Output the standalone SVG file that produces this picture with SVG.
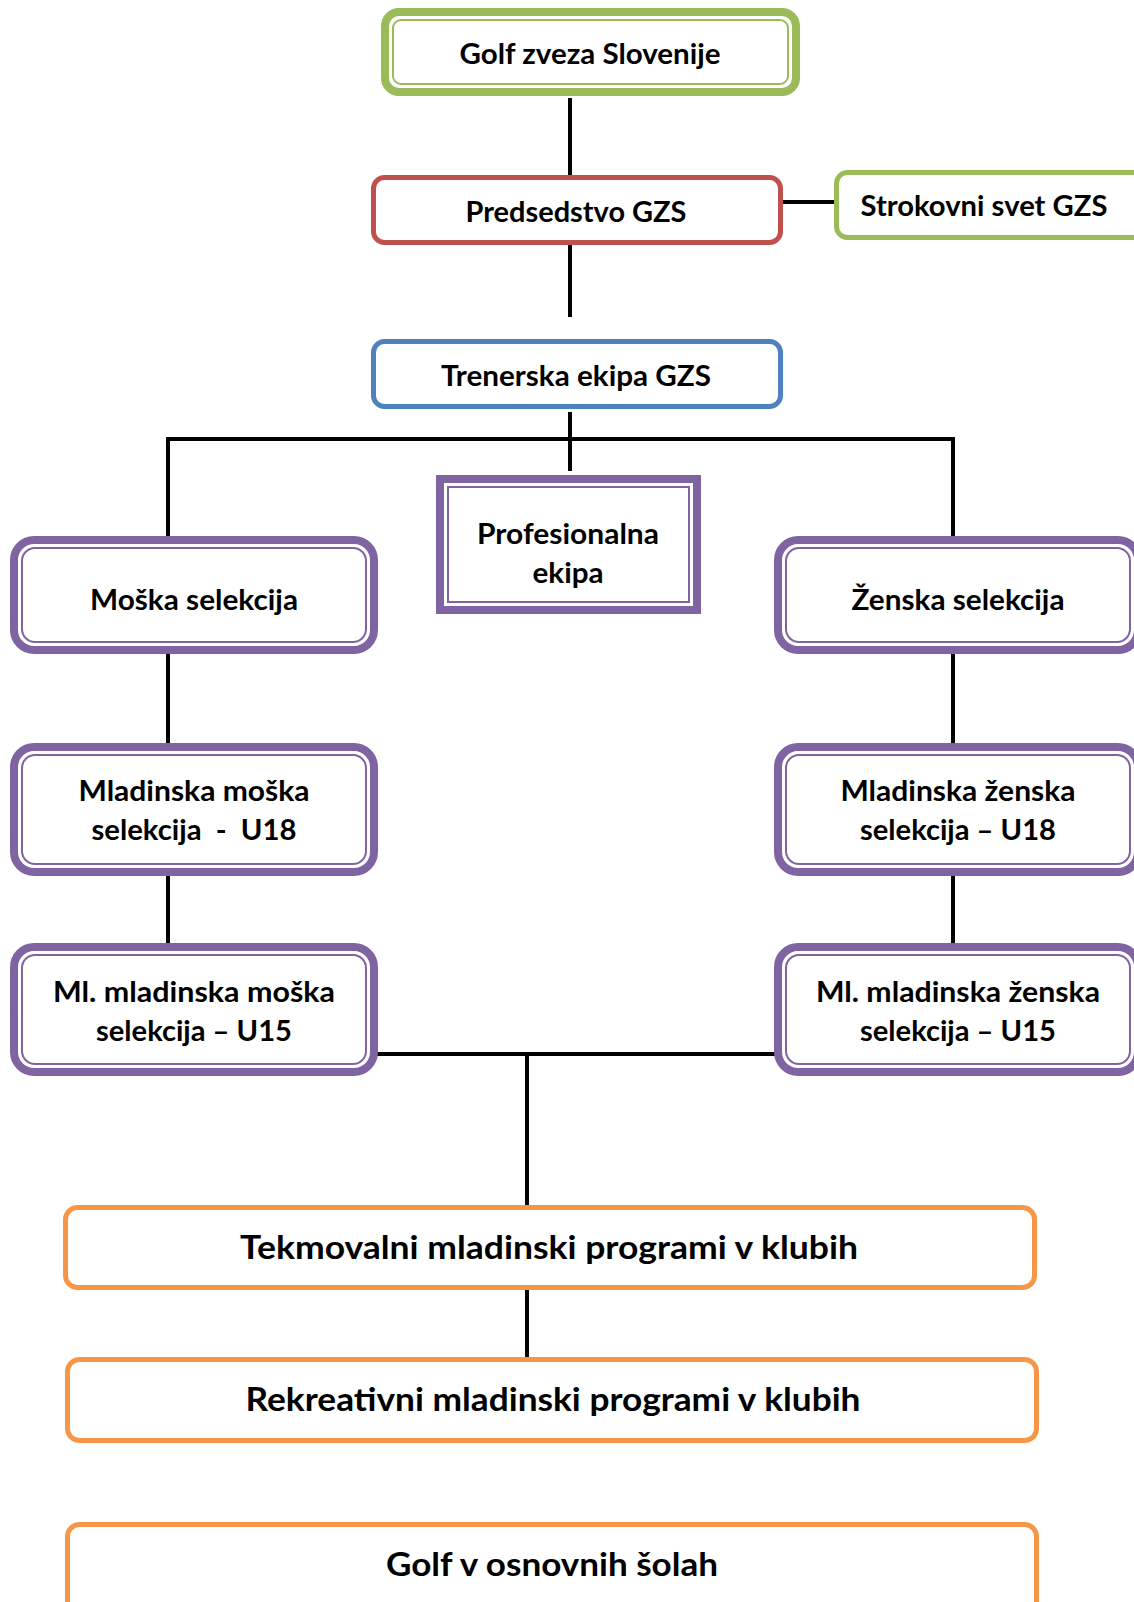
<svg xmlns="http://www.w3.org/2000/svg" width="1134" height="1602" viewBox="0 0 1134 1602">
<style>
text{font-family:Lato,"Open Sans","Liberation Sans",sans-serif;font-weight:bold;fill:#000;text-anchor:middle;font-size:28px}
.big{font-size:33px}
.conn line{stroke:#000;stroke-width:4}
rect{fill:#fff}
.g1{stroke:#9BBB59;stroke-width:8}
.g2{stroke:#9BBB59;stroke-width:2}
.gs{stroke:#9BBB59;stroke-width:5}
.r{stroke:#C0504D;stroke-width:5}
.b{stroke:#4F81BD;stroke-width:5}
.p1{stroke:#8064A2;stroke-width:8}
.p2{stroke:#8064A2;stroke-width:2}
.o{stroke:#F79646;stroke-width:5}
</style>
<rect x="0" y="0" width="1134" height="1602" fill="#fff"/>
<g id="connectors" class="conn">
<line x1="570" y1="98" x2="570" y2="175"/>
<line x1="570" y1="245" x2="570" y2="317"/>
<line x1="783" y1="202" x2="836" y2="202"/>
<line x1="570" y1="412" x2="570" y2="471"/>
<line x1="166" y1="439" x2="955" y2="439"/>
<line x1="168" y1="437" x2="168" y2="538"/>
<line x1="953" y1="437" x2="953" y2="538"/>
<line x1="168" y1="654" x2="168" y2="745"/>
<line x1="953" y1="654" x2="953" y2="745"/>
<line x1="168" y1="876" x2="168" y2="945"/>
<line x1="953" y1="876" x2="953" y2="945"/>
<line x1="376" y1="1054" x2="778" y2="1054"/>
<line x1="527" y1="1052" x2="527" y2="1206"/>
<line x1="527" y1="1290" x2="527" y2="1358"/>
</g>
<g id="n-gzs">
<rect class="g1" x="385" y="12" width="411" height="80" rx="14"/>
<rect class="g2" x="393" y="20" width="395" height="64" rx="8"/>
<text x="590" y="64" textLength="261" lengthAdjust="spacingAndGlyphs">Golf zveza Slovenije</text>
</g>
<g id="n-predsedstvo">
<rect class="r" x="373.5" y="177.5" width="407" height="65" rx="11"/>
<text x="576" y="222" textLength="221" lengthAdjust="spacingAndGlyphs">Predsedstvo GZS</text>
</g>
<g id="n-strokovni">
<rect class="gs" x="836.5" y="172.5" width="310" height="65" rx="11"/>
<text x="984" y="216" textLength="247" lengthAdjust="spacingAndGlyphs">Strokovni svet GZS</text>
</g>
<g id="n-trenerska">
<rect class="b" x="373.5" y="341.5" width="407" height="65" rx="11"/>
<text x="576" y="386" textLength="270" lengthAdjust="spacingAndGlyphs">Trenerska ekipa GZS</text>
</g>
<g id="n-profesionalna">
<rect class="p1" x="440" y="479" width="257" height="131"/>
<rect class="p2" x="448" y="487" width="241" height="115"/>
<text x="568" y="544" textLength="182" lengthAdjust="spacingAndGlyphs">Profesionalna</text>
<text x="568" y="583" textLength="71" lengthAdjust="spacingAndGlyphs">ekipa</text>
</g>
<g id="n-moska">
<rect class="p1" x="14" y="540" width="360" height="110" rx="20"/>
<rect class="p2" x="22" y="548" width="344" height="94" rx="13"/>
<text x="194" y="610" textLength="208" lengthAdjust="spacingAndGlyphs">Moška selekcija</text>
</g>
<g id="n-zenska">
<rect class="p1" x="778" y="540" width="360" height="110" rx="20"/>
<rect class="p2" x="786" y="548" width="344" height="94" rx="13"/>
<text x="958" y="610" textLength="213" lengthAdjust="spacingAndGlyphs">Ženska selekcija</text>
</g>
<g id="n-mlad-moska">
<rect class="p1" x="14" y="747" width="360" height="125" rx="20"/>
<rect class="p2" x="22" y="755" width="344" height="109" rx="13"/>
<text x="194" y="801" textLength="231" lengthAdjust="spacingAndGlyphs">Mladinska moška</text>
<text x="194" y="840" textLength="205" lengthAdjust="spacingAndGlyphs" xml:space="preserve">selekcija  -  U18</text>
</g>
<g id="n-mlad-zenska">
<rect class="p1" x="778" y="747" width="360" height="125" rx="20"/>
<rect class="p2" x="786" y="755" width="344" height="109" rx="13"/>
<text x="958" y="801" textLength="235" lengthAdjust="spacingAndGlyphs">Mladinska ženska</text>
<text x="958" y="840" textLength="196" lengthAdjust="spacingAndGlyphs">selekcija – U18</text>
</g>
<g id="n-mlmlad-moska">
<rect class="p1" x="14" y="947" width="360" height="125" rx="20"/>
<rect class="p2" x="22" y="955" width="344" height="109" rx="13"/>
<text x="194" y="1002" textLength="282" lengthAdjust="spacingAndGlyphs">Ml. mladinska moška</text>
<text x="194" y="1041" textLength="196" lengthAdjust="spacingAndGlyphs">selekcija – U15</text>
</g>
<g id="n-mlmlad-zenska">
<rect class="p1" x="778" y="947" width="360" height="125" rx="20"/>
<rect class="p2" x="786" y="955" width="344" height="109" rx="13"/>
<text x="958" y="1002" textLength="284" lengthAdjust="spacingAndGlyphs">Ml. mladinska ženska</text>
<text x="958" y="1041" textLength="196" lengthAdjust="spacingAndGlyphs">selekcija – U15</text>
</g>
<g id="n-tekmovalni">
<rect class="o" x="65.5" y="1207.5" width="969" height="80" rx="12"/>
<text class="big" x="549" y="1259" textLength="618" lengthAdjust="spacingAndGlyphs">Tekmovalni mladinski programi v klubih</text>
</g>
<g id="n-rekreativni">
<rect class="o" x="67.5" y="1359.5" width="969" height="81" rx="12"/>
<text class="big" x="553" y="1411" textLength="615" lengthAdjust="spacingAndGlyphs">Rekreativni mladinski programi v klubih</text>
</g>
<g id="n-osnovne">
<rect class="o" x="67.5" y="1524.5" width="969" height="95" rx="12"/>
<text class="big" x="552" y="1576" textLength="332" lengthAdjust="spacingAndGlyphs">Golf v osnovnih šolah</text>
</g>
</svg>
